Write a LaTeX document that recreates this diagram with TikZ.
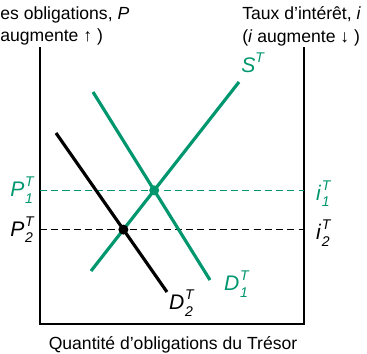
\documentclass[tikz,border=0pt]{standalone}
\usepackage{fontspec}
\setmainfont{Liberation Sans}
\definecolor{bondGreen}{RGB}{0,150,110}
\usetikzlibrary{calc}
\newcommand{\eqlab}[3]{\textit{#1}\hspace{0.4pt}{\footnotesize\rlap{\raisebox{5.6pt}{\textit{#2}}}\raisebox{-3.8pt}{\textit{#3}}\hspace{1pt}}}

\begin{document}
\begin{tikzpicture}[
    axis/.style={draw, line width=0.8pt},
    curve/.style={line width=1.8pt},
    level/.style={line width=0.8pt, dash pattern=on 4pt off 2.4pt},
    dot/.style={circle, fill, inner sep=0pt, minimum size=0.2cm},
    lab/.style={font=\large, inner sep=1pt}
  ]
    \useasboundingbox (-0.8,-0.58) rectangle (6.54,6.48);

    % axes
    \coordinate (yP) at (0,5.54);
    \coordinate (o) at (0,0);
    \coordinate (xq) at (5.28,0);
    \coordinate (yi) at (5.28,5.54);
    \draw[axis] (yP) -- (o) -- (xq) -- (yi);

    \node[anchor=north west, align=left, inner sep=0pt] (pAxis) at (-0.8,6.36)
      {es obligations, \textit{P}\\[1pt] augmente ↑ )};
    \node[anchor=north west, align=left, inner sep=0pt] (iAxis) at (4.04,6.36)
      {Taux d'intérêt, \textit{i}\\[1pt] (\textit{i} augmente ↓ )};
    \node (qAxis) at (2.66,-0.42) {Quantité d'obligations du Trésor};

    % supply and demand
    \coordinate (s0) at (1.02,1.06);
    \coordinate (s1) at (3.98,4.84);
    \coordinate (da) at (1.06,4.64);
    \coordinate (db) at (3.40,0.88);
    \coordinate (dc) at (0.32,3.82);
    \coordinate (dd) at (2.54,0.64);
    \coordinate (e1) at (intersection of s0--s1 and da--db);
    \coordinate (e2) at (intersection of s0--s1 and dc--dd);

    \draw[level, bondGreen] (o |- e1) -- (xq |- e1);
    \draw[level] (o |- e2) -- (xq |- e2);

    \draw[curve] (dc) -- (dd);
    \draw[curve, bondGreen] (s0) -- (s1);
    \draw[curve, bondGreen] (da) -- (db);

    \node[dot, bondGreen] (eq1) at (e1) {};
    \node[dot] (eq2) at (e2) {};

    \node[lab, bondGreen, left=0.1cm] (p1) at (o |- e1) {\eqlab{P}{T}{1}};
    \node[lab, left=0.1cm] (p2) at (o |- e2) {\eqlab{P}{T}{2}};
    \node[lab, bondGreen, right=0.2cm, yshift=-2pt] (i1) at (xq |- e1) {\eqlab{i}{T}{1}};
    \node[lab, right=0.2cm, yshift=-2pt] (i2) at (xq |- e2) {\eqlab{i}{T}{2}};
    \node[lab, bondGreen] (sLab) at (4.26,5.22) {\textit{S}\raisebox{5.6pt}{\footnotesize\textit{T}}};
    \node[lab, bondGreen] (d1Lab) at (3.92,0.8) {\eqlab{D}{T}{1}};
    \node[lab] (d2Lab) at (2.82,0.42) {\eqlab{D}{T}{2}};
  \end{tikzpicture}
\end{document}
